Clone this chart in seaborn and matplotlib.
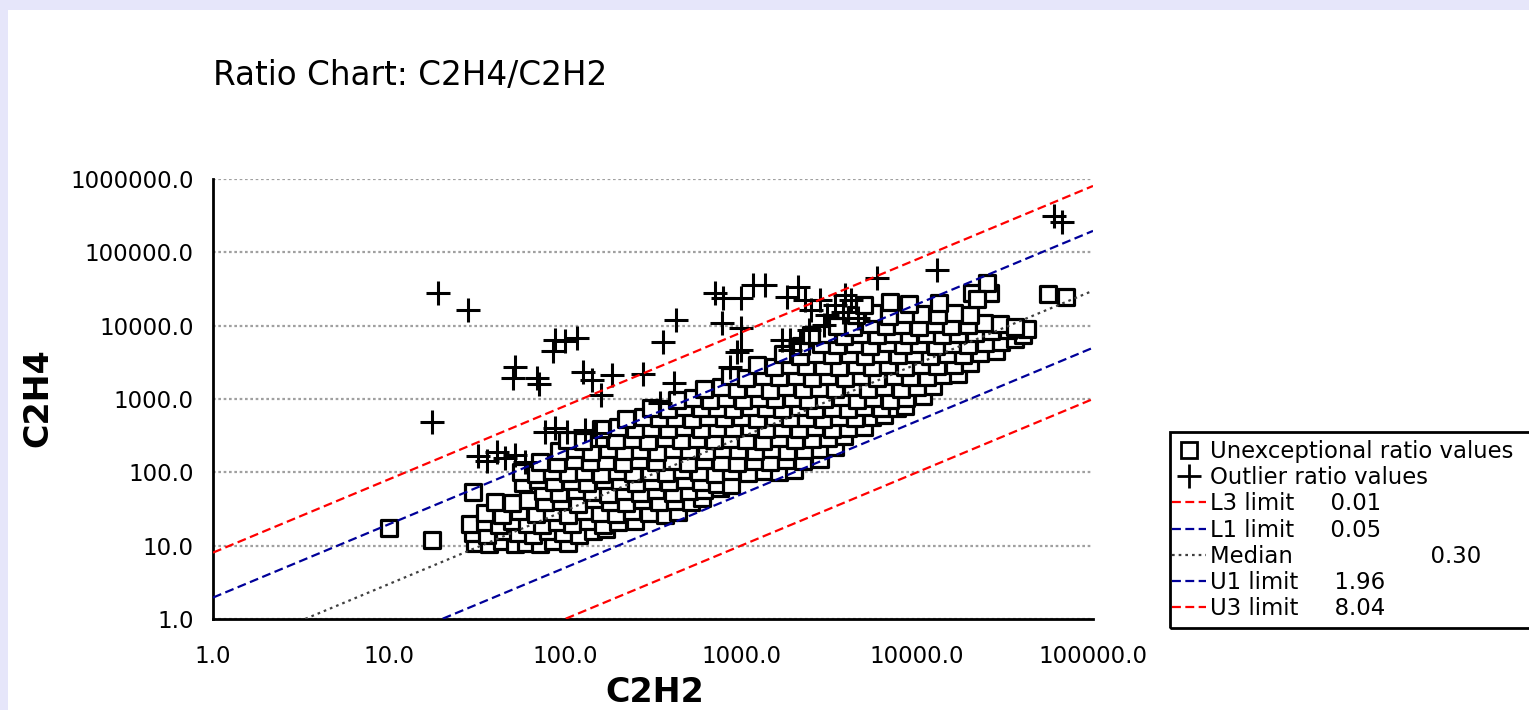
import matplotlib
matplotlib.use("Agg")
import matplotlib.pyplot as plt
import seaborn as sns
from matplotlib.lines import Line2D
from matplotlib.patches import Rectangle
from matplotlib.ticker import FixedLocator, FuncFormatter, NullLocator

# Unexceptional ratio values (C2H2, C2H4)
sq_c2h2 = [
    10, 17.5,
    31, 37, 44, 52, 60, 72, 86, 104,
    30, 36, 45, 54, 66, 80, 97, 120, 145, 170,
    29, 35, 42, 50, 61, 74, 90, 110, 135, 165, 200, 250,
    35, 44, 55, 68, 84, 104, 128, 158, 195, 240, 300, 370, 440,
    40, 50, 62, 77, 95, 118, 146, 180, 222, 275, 340, 420, 520, 600,
    30, 75, 93, 115, 142, 175, 216, 267, 330, 410, 505, 620, 760,
    58, 70, 87, 108, 134, 166, 205, 254, 314, 390, 480, 595, 735, 880,
    56, 68, 84, 104, 129, 160, 198, 245, 303, 375, 465, 575, 712, 880, 1090, 1350, 1650, 2000,
    72, 90, 112, 139, 172, 213, 264, 327, 405, 500, 620, 770, 950, 1180, 1460, 1810, 2240, 2800,
    92, 114, 141, 175, 216, 268, 332, 410, 508, 630, 780, 965, 1200, 1480, 1830, 2270, 2800, 3400,
    102, 127, 157, 195, 241, 298, 369, 457, 566, 700, 867, 1070, 1330, 1640, 2030, 2520, 3120, 3860,
    160, 200, 250, 310, 385, 475, 590, 730, 905, 1120, 1390, 1720, 2130, 2640, 3270, 4050, 5000,
    223, 276, 342, 424, 525, 650, 805, 997, 1235, 1530, 1895, 2350, 2910, 3600, 4460, 5520, 6500,
    310, 384, 476, 590, 730, 905, 1120, 1390, 1720, 2130, 2640, 3270, 4050, 5020, 6220, 7700, 8600,
    434, 537, 665, 824, 1020, 1265, 1565, 1940, 2400, 2975, 3685, 4565, 5655, 7005, 8680, 10750,
    620, 768, 951, 1178, 1460, 1808, 2240, 2775, 3438, 4258, 5275, 6535, 8095, 10030, 12400,
    867, 1074, 1330, 1648, 2042, 2530, 3134, 3882, 4810, 5958, 7382, 9145, 11330, 14035, 17000,
    1240, 1535, 1900, 2355, 2920, 3615, 4480, 5550, 6875, 8515, 10550, 13070, 16190, 20000,
    1735, 2150, 2660, 3300, 4085, 5060, 6270, 7770, 9625, 11920, 14770, 18300, 22670, 28000,
    2200, 2850, 3530, 4370, 5415, 6710, 8310, 10300, 12750, 15800, 19570, 24250, 30000, 36000, 40000,
    2500, 3100, 3840, 4760, 5900, 7300, 9050, 11200, 13900, 17200, 21300, 26400, 32700, 42000,
    3500, 4340, 5375, 6660, 8250, 10220, 12660, 15680, 19430, 24070, 29800, 36000,
    4500, 5600, 6900, 8600, 10600, 13200, 16300, 20000,
    5000, 7000, 9000, 13400,
    20500, 26000, 25000, 22000, 55500, 70000,
]
sq_c2h4 = [
    17.5, 12,
    11, 10.5, 11.5, 10.5, 11, 10.5, 11.5, 11,
    15, 14, 16, 15, 14, 16, 15, 14, 16, 17,
    20, 21, 19, 22, 20, 19, 21, 20, 22, 19, 21, 22,
    28, 26, 30, 27, 29, 26, 30, 28, 27, 30, 28, 26, 29,
    40, 38, 42, 39, 41, 37, 43, 40, 38, 42, 39, 41, 40, 44,
    54, 55, 52, 57, 54, 51, 56, 53, 57, 52, 55, 58, 62,
    72, 78, 74, 76, 71, 79, 75, 72, 77, 74, 79, 73, 70, 68,
    100, 96, 105, 98, 102, 95, 104, 99, 101, 97, 106, 100, 95, 103, 98, 104, 100, 108,
    140, 135, 145, 138, 142, 134, 147, 139, 143, 136, 146, 140, 135, 144, 138, 146, 141, 150,
    195, 205, 190, 208, 198, 202, 192, 207, 199, 194, 206, 200, 193, 205, 197, 203, 210, 220,
    280, 270, 290, 275, 285, 268, 292, 278, 284, 272, 288, 280, 270, 291, 276, 286, 295, 310,
    390, 410, 385, 405, 395, 415, 388, 402, 398, 412, 392, 406, 396, 414, 390, 404, 410,
    540, 570, 545, 555, 535, 575, 550, 562, 538, 568, 548, 558, 542, 572, 552, 565, 600,
    765, 730, 770, 745, 760, 735, 775, 750, 738, 768, 742, 758, 732, 772, 748, 760, 800,
    960, 1040, 975, 1020, 955, 1045, 990, 1030, 965, 1010, 1050, 980, 1025, 970, 1040, 1100,
    1350, 1460, 1380, 1430, 1340, 1470, 1390, 1420, 1360, 1450, 1375, 1440, 1355, 1465, 1500,
    2050, 1920, 2070, 1980, 2030, 1940, 2080, 1960, 2040, 1930, 2060, 1990, 2020, 2100, 2200,
    2880, 2700, 2900, 2780, 2850, 2720, 2920, 2760, 2870, 2710, 2900, 2800, 2950, 3100,
    4100, 3850, 4150, 3950, 4080, 3870, 4120, 3920, 4060, 3880, 4140, 3960, 4200, 4500,
    5300, 5700, 5400, 5600, 5250, 5750, 5450, 5650, 5350, 5700, 5500, 5800, 6000, 6500, 7500,
    7400, 7700, 7300, 7800, 7500, 7650, 7350, 7750, 7450, 7600, 7900, 8500, 8800, 9000,
    10000, 9600, 10400, 9800, 10200, 9500, 10500, 9900, 10300, 11000, 10500, 9500,
    14000, 14800, 13500, 14500, 14200, 13800, 15000, 14000,
    19000, 21000, 19500, 20500,
    28000, 28000, 38500, 23000, 27000, 24600,
]

# Outlier ratio values
pl_c2h2 = [
    17.5, 19, 28, 52, 50.5, 69, 71, 86, 88, 100, 117, 126, 142, 160, 185, 277, 361, 427, 417, 347,
    32, 36, 41, 45.5, 52, 59, 77, 88, 103, 130, 150,
    711, 790, 1000, 1170, 1370, 1830, 2100, 780, 1000, 1000, 1720, 1900, 950, 870,
    2300, 2500, 2800, 3100, 3400, 3800, 4200, 4600, 2450, 2950, 2150, 1900, 3900,
    5930, 13000, 60000, 67000,
]
pl_c2h4 = [
    490, 28000, 16500, 2740, 1940, 1940, 1600, 4500, 6400, 6200, 6800, 2350, 1820, 1140, 2130, 2200, 6000, 12000, 1660, 885,
    167, 143, 189, 157, 172, 139, 355, 400, 355, 380, 345,
    28000, 24000, 24000, 36000, 36000, 24500, 34000, 11000, 9300, 4700, 6300, 6300, 4400, 2750,
    22400, 16400, 22400, 14000, 19000, 15500, 22400, 12800, 8800, 10200, 5800, 4700, 26000,
    44900, 57700, 310000, 260000,
]
assert len(sq_c2h2) == len(sq_c2h4) and len(pl_c2h2) == len(pl_c2h4)

# ratio limit lines
limit_names = ["L3 limit", "L1 limit", "Median", "U1 limit", "U3 limit"]
limit_ratios = [0.01, 0.05, 0.30, 1.96, 8.04]
limit_gaps = [5, 5, 19, 5, 5]
limit_colors = ["#ff0000", "#000099", "#404040", "#000099", "#ff0000"]
limit_styles = [(0, (4, 2)), (0, (4, 2)), (0, (1.2, 1.8)), (0, (4, 2)), (0, (4, 2))]
x_range = [1, 100000]

decades_x = [1, 10, 100, 1000, 10000, 100000]
decades_y = [1, 10, 100, 1000, 10000, 100000, 1000000]

sns.set_theme(style="white")
plt.rcParams["font.family"] = ["DejaVu Sans"]

W, H = 1529, 710
fig = plt.figure(figsize=(W / 100, H / 100), dpi=100)
fig.patch.set_facecolor("#e6e6fa")
fig.add_artist(Rectangle((8 / W, 0), 1, 1 - 10 / H, transform=fig.transFigure,
                         facecolor="white", edgecolor="none", zorder=-5))

ax = fig.add_axes([213 / W, 91 / H, 880 / W, 440 / H])
ax.set_xscale("log")
ax.set_yscale("log")

sns.scatterplot(x=sq_c2h2, y=sq_c2h4, marker="s", s=135, color="white",
                edgecolor="black", linewidth=2.3, ax=ax, zorder=3, legend=False)
sns.scatterplot(x=pl_c2h2, y=pl_c2h4, marker="+", s=280, color="black",
                edgecolor=None, linewidth=2.2, ax=ax, zorder=4, legend=False)

for k, c, ls in zip(limit_ratios, limit_colors, limit_styles):
    sns.lineplot(x=x_range, y=[k * v for v in x_range], color=c, linestyle=ls,
                 linewidth=1.6, ax=ax, zorder=5)

ax.set_xlim(1, 100000)
ax.set_ylim(1, 1000000)
ax.xaxis.set_major_locator(FixedLocator(decades_x))
ax.yaxis.set_major_locator(FixedLocator(decades_y))
ax.xaxis.set_minor_locator(NullLocator())
ax.yaxis.set_minor_locator(NullLocator())
fmt = FuncFormatter(lambda v, p: f"{v:.1f}")
ax.xaxis.set_major_formatter(fmt)
ax.yaxis.set_major_formatter(fmt)
ax.tick_params(axis="both", direction="out", length=13, width=1.6, color="black",
               labelsize=16.5, labelcolor="black")
ax.tick_params(axis="y", pad=1)
ax.tick_params(axis="x", pad=6)
ax.yaxis.grid(True, color="#a0a0a0", linestyle=(0, (1.2, 1.2)), linewidth=1.6)
ax.xaxis.grid(False)
ax.set_axisbelow(True)
for side in ["top", "right"]:
    ax.spines[side].set_visible(False)
for side in ["left", "bottom"]:
    ax.spines[side].set_color("black")
    ax.spines[side].set_linewidth(2.0)
ax.set_xlabel("")
ax.set_ylabel("")

fig.text(213 / W, 1 - 76 / H, "Ratio Chart: C2H4/C2H2", fontsize=23.5,
         ha="left", va="center", color="black")
fig.text(38 / W, 1 - 398 / H, "C2H4", fontsize=24, fontweight="bold",
         rotation=90, ha="center", va="center", color="black")
fig.text(655 / W, 1 - 692 / H, "C2H2", fontsize=24, fontweight="bold",
         ha="center", va="center", color="black")

handles = [
    Line2D([], [], marker="s", linestyle="none", markersize=11, markerfacecolor="white",
           markeredgecolor="black", markeredgewidth=2.0),
    Line2D([], [], marker="+", linestyle="none", markersize=17, color="black",
           markeredgewidth=2.0),
]
labels = ["Unexceptional ratio values", "Outlier ratio values"]
for name, k, gap, c, ls in zip(limit_names, limit_ratios, limit_gaps, limit_colors, limit_styles):
    handles.append(Line2D([], [], color=c, linestyle=ls, linewidth=1.6))
    labels.append(name + " " * gap + f"{k:.2f}")

fig.legend(handles, labels, loc="upper left", bbox_to_anchor=(1172 / W, 1 - 440 / H),
           frameon=False, fontsize=16.4, handlelength=1.5, handletextpad=0.15,
           labelspacing=0.14, borderpad=0, borderaxespad=0, labelcolor="black")
fig.add_artist(Rectangle((1170 / W, 1 - 628 / H), 400 / W, 196 / H, transform=fig.transFigure,
                         fill=False, edgecolor="black", linewidth=2.0))

fig.savefig("out.png", dpi=100, facecolor=fig.get_facecolor())
